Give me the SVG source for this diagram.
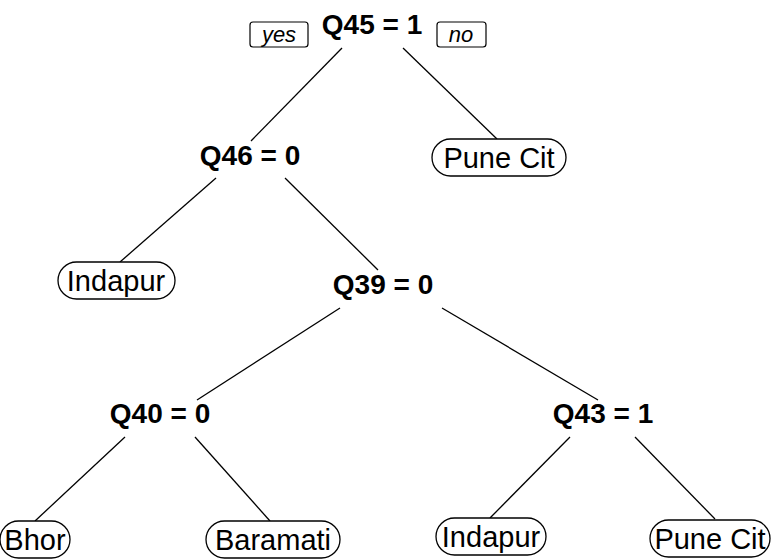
<svg xmlns="http://www.w3.org/2000/svg" width="776" height="559" viewBox="0 0 776 559">
  <style>
    .split { font-family: "Liberation Sans", Arial, sans-serif; font-weight: bold; font-size: 28px; fill: #000; text-anchor: middle; }
    .leaf-box { fill: #fff; stroke: #000; stroke-width: 1.3; }
    .leaf-text { font-family: "Liberation Sans", Arial, sans-serif; font-size: 29px; fill: #000; text-anchor: middle; }
    .tag-box { fill: #fff; stroke: #000; stroke-width: 1.2; }
    .tag-text { font-family: "Liberation Sans", Arial, sans-serif; font-style: italic; font-size: 22px; fill: #000; text-anchor: middle; }
    .edge { stroke: #000; stroke-width: 1.3; fill: none; }
  </style>
  <rect width="776" height="559" fill="#fff"/>

  <g id="connectors">
    <line class="edge" x1="342" y1="48" x2="251" y2="141"/>
    <line class="edge" x1="403" y1="48" x2="497" y2="139"/>
    <line class="edge" x1="216" y1="178" x2="120" y2="262"/>
    <line class="edge" x1="285" y1="178" x2="378" y2="270"/>
    <line class="edge" x1="340" y1="308" x2="197" y2="400"/>
    <line class="edge" x1="442" y1="308" x2="598" y2="400"/>
    <line class="edge" x1="125" y1="437" x2="35" y2="521"/>
    <line class="edge" x1="195" y1="437" x2="270" y2="521"/>
    <line class="edge" x1="570" y1="437" x2="490" y2="518"/>
    <line class="edge" x1="635" y1="437" x2="715" y2="519"/>
  </g>

  <g id="n1">
    <rect class="tag-box" x="250" y="22" width="58" height="25" rx="3"/>
    <text class="tag-text" x="279" y="42">yes</text>
    <text class="split" x="372" y="34">Q45 = 1</text>
    <rect class="tag-box" x="437" y="22" width="49" height="25" rx="3"/>
    <text class="tag-text" x="461" y="42">no</text>
  </g>

  <g id="n2">
    <text class="split" x="250" y="165">Q46 = 0</text>
  </g>

  <g id="n3">
    <rect class="leaf-box" x="432" y="139" width="134" height="37" rx="18.5"/>
    <text class="leaf-text" x="499" y="168">Pune Cit</text>
  </g>

  <g id="n4">
    <rect class="leaf-box" x="58" y="262" width="117" height="37" rx="18.5"/>
    <text class="leaf-text" x="116" y="291">Indapur</text>
  </g>

  <g id="n5">
    <text class="split" x="383" y="294">Q39 = 0</text>
  </g>

  <g id="n10">
    <text class="split" x="160" y="423">Q40 = 0</text>
  </g>

  <g id="n11">
    <text class="split" x="603" y="423">Q43 = 1</text>
  </g>

  <g id="n20">
    <rect class="leaf-box" x="0" y="521" width="70" height="37" rx="18.5"/>
    <text class="leaf-text" x="35" y="550">Bhor</text>
  </g>

  <g id="n21">
    <rect class="leaf-box" x="206" y="521" width="134" height="37" rx="18.5"/>
    <text class="leaf-text" x="273" y="550">Baramati</text>
  </g>

  <g id="n22">
    <rect class="leaf-box" x="436" y="518" width="110" height="37" rx="18.5"/>
    <text class="leaf-text" x="491" y="547">Indapur</text>
  </g>

  <g id="n23">
    <rect class="leaf-box" x="650" y="520" width="120" height="37" rx="18.5"/>
    <text class="leaf-text" x="710" y="549">Pune Cit</text>
  </g>
</svg>
